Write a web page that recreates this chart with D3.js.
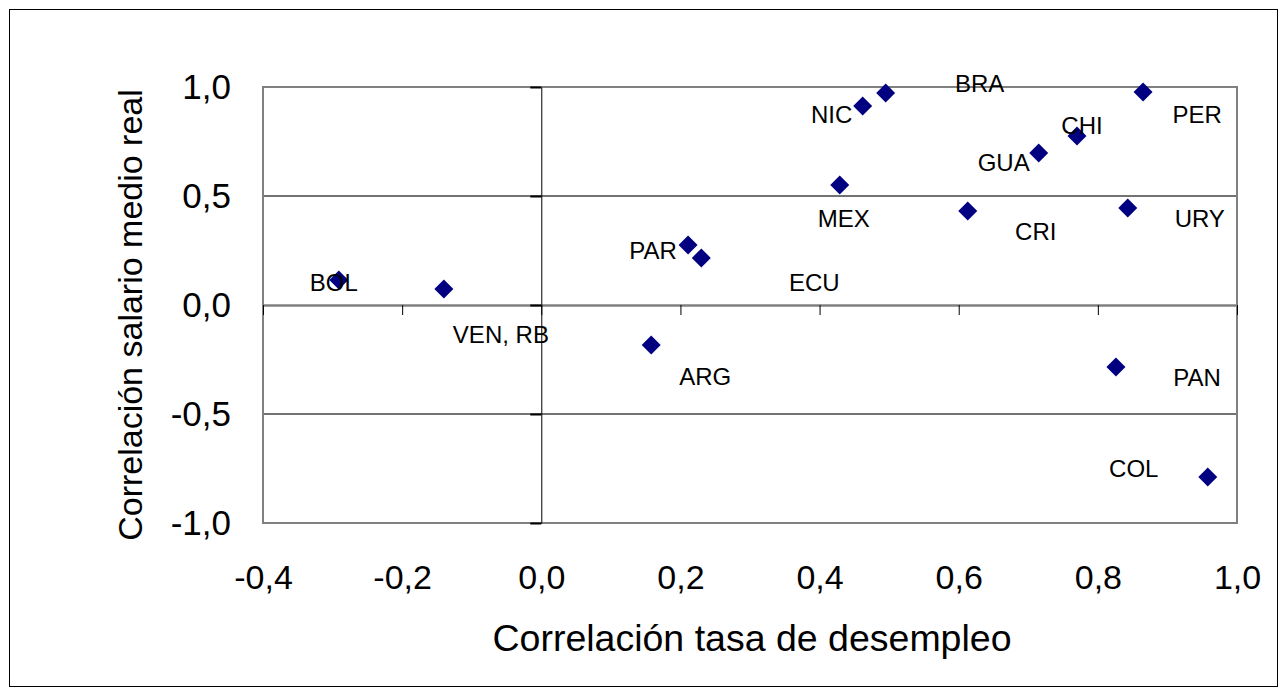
<!DOCTYPE html>
<html>
<head>
<meta charset="utf-8">
<script src="https://cdn.jsdelivr.net/npm/d3@7"></script>
<style>
  body { margin: 0; background: #fff; }
  svg { display: block; font-family: "Liberation Sans", Arial, sans-serif; }
</style>
</head>
<body>
<svg id="chart"></svg>
<script>
const countries = ["BOL", "VEN, RB", "NIC", "BRA", "PER", "CHI", "GUA", "CRI", "URY", "MEX", "PAR", "ECU", "ARG", "PAN", "COL"];
const corrDesempleo = [-0.291, -0.140, 0.462, 0.495, 0.865, 0.770, 0.715, 0.613, 0.843, 0.429, 0.211, 0.230, 0.158, 0.826, 0.958];
const corrSalario = [0.115, 0.073, 0.913, 0.972, 0.977, 0.775, 0.697, 0.431, 0.445, 0.550, 0.275, 0.216, -0.183, -0.284, -0.789];
const xTicks = [-0.4, -0.2, 0.0, 0.2, 0.4, 0.6, 0.8, 1.0];
const yTicks = [-1.0, -0.5, 0.0, 0.5, 1.0];
const xTitle = "Correlación tasa de desempleo";
const yTitle = "Correlación salario medio real";

// where each data label sits relative to its marker (px)
const labelOffset = {
    "BOL": [-5, 11], "VEN, RB": [57, 54], "NIC": [-31, 17], "BRA": [94, -1],
    "PER": [54, 31], "CHI": [5, -2], "GUA": [-35, 18], "CRI": [68, 29],
    "URY": [72, 19], "MEX": [4, 42], "PAR": [-35, 14], "ECU": [113, 33],
    "ARG": [54, 40], "PAN": [81, 19], "COL": [-74, 0]
};

const width = 1287, height = 696;
const margin = {top: 87, right: 50, bottom: 173, left: 263};

const points = countries.map((c, i) => ({name: c, x: corrDesempleo[i], y: corrSalario[i]}));

const svg = d3.select("#chart").attr("width", width).attr("height", height);

const fmt = d3.formatLocale({decimal: ",", thousands: ".", grouping: [3], currency: ["", ""], minus: "-"}).format(".1f");

const x = d3.scaleLinear().domain([-0.4, 1.0]).range([margin.left, width - margin.right]);
const y = d3.scaleLinear().domain([-1.0, 1.0]).range([height - margin.bottom, margin.top]);

// outer chart frame
svg.append("rect")
    .attr("x", 9.5).attr("y", 9.5)
    .attr("width", width - 19).attr("height", height - 19)
    .attr("fill", "#fff").attr("stroke", "#000").attr("stroke-width", 1);

// horizontal gridlines
svg.append("g")
    .selectAll("line")
    .data(yTicks.filter(d => d !== 0 && Math.abs(d) !== 1))
    .join("line")
    .attr("x1", x(-0.4)).attr("x2", x(1.0))
    .attr("y1", d => y(d)).attr("y2", d => y(d))
    .attr("stroke", "#444").attr("stroke-width", 1.5);

// plot area border
svg.append("rect")
    .attr("x", x(-0.4)).attr("y", y(1.0))
    .attr("width", x(1.0) - x(-0.4)).attr("height", y(-1.0) - y(1.0))
    .attr("fill", "none").attr("stroke", "#808080").attr("stroke-width", 2);

// x axis crossing at y = 0
const xAxis = svg.append("g")
    .attr("transform", `translate(0,${y(0)})`)
    .call(d3.axisBottom(x).tickValues(xTicks).tickSize(10).tickSizeOuter(0).tickFormat(""));
xAxis.select(".domain").attr("stroke", "#808080").attr("stroke-width", 2.5);
xAxis.selectAll(".tick line").attr("stroke", "#000").attr("stroke-width", 1);

// y axis crossing at x = 0
const yAxis = svg.append("g")
    .attr("transform", `translate(${x(0)},0)`)
    .call(d3.axisLeft(y).tickValues(yTicks).tickSize(11).tickSizeOuter(0).tickFormat(""));
yAxis.select(".domain").attr("stroke", "#000").attr("stroke-width", 1);
yAxis.selectAll(".tick line").attr("stroke", "#000").attr("stroke-width", 2);

// tick labels along the plot edges
const xLabels = svg.append("g")
    .attr("transform", `translate(0,${y(-1.0)})`)
    .call(d3.axisBottom(x).tickValues(xTicks).tickSize(0).tickPadding(42).tickFormat(fmt));
xLabels.select(".domain").remove();
xLabels.selectAll("text").attr("font-size", 34).attr("font-family", "Liberation Sans, Arial").attr("fill", "#000");

const yLabels = svg.append("g")
    .attr("transform", `translate(${x(-0.4)},0)`)
    .call(d3.axisLeft(y).tickValues(yTicks).tickSize(0).tickPadding(32).tickFormat(fmt));
yLabels.select(".domain").remove();
yLabels.selectAll("text").attr("font-size", 35).attr("font-family", "Liberation Sans, Arial").attr("fill", "#000");

// axis titles
svg.append("text")
    .attr("x", (x(-0.4) + x(1.0)) / 2 + 2)
    .attr("y", 651)
    .attr("text-anchor", "middle")
    .attr("font-size", 37.5)
    .text(xTitle);

svg.append("text")
    .attr("transform", `translate(142,315) rotate(-90)`)
    .attr("text-anchor", "middle")
    .attr("font-size", 34)
    .text(yTitle);

// markers
svg.append("g")
    .selectAll("path")
    .data(points)
    .join("path")
    .attr("d", d3.symbol().type(d3.symbolSquare).size(180))
    .attr("transform", d => `translate(${x(d.x)},${y(d.y)}) rotate(45)`)
    .attr("fill", "#000080");

// data labels
svg.append("g")
    .selectAll("text")
    .data(points)
    .join("text")
    .attr("x", d => x(d.x) + labelOffset[d.name][0])
    .attr("y", d => y(d.y) + labelOffset[d.name][1])
    .attr("text-anchor", "middle")
    .attr("font-size", 24)
    .attr("fill", "#000")
    .text(d => d.name);
</script>
</body>
</html>
